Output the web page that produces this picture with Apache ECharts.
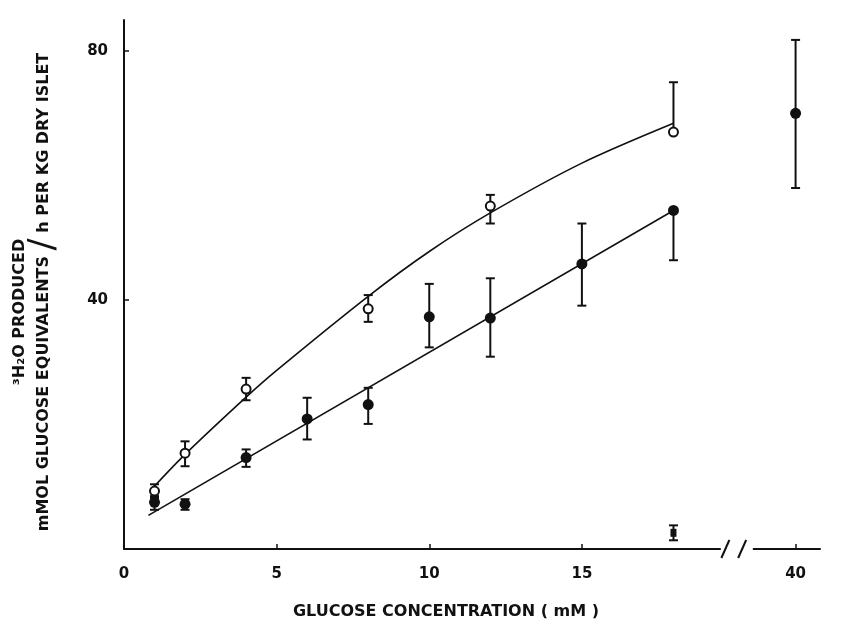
<!DOCTYPE html>
<html>
<head>
<meta charset="utf-8">
<script src="https://cdn.jsdelivr.net/npm/echarts@6/dist/echarts.min.js"></script>
<style>
  html, body { margin: 0; padding: 0; background: #fff; }
  #chart { width: 846px; height: 625px; }
</style>
</head>
<body>
<div id="chart"></div>
<script>
// glucose concentration (mM) and 3H2O produced
const openX = [1, 2, 4, 8, 12, 18];
const openY = [9.3, 15.4, 25.7, 38.6, 55.1, 67.0];
const openErrUp = [1.1, 1.9, 1.8, 2.2, 1.8, 8.0];
const openErrDown = [1.1, 2.1, 1.8, 2.1, 2.8, 0];

const filledX = [1, 2, 4, 6, 8, 10, 12, 15, 18, 40];
const filledY = [7.5, 7.2, 14.7, 20.9, 23.2, 37.3, 37.1, 45.8, 54.4, 70.0];
const filledErrUp = [1.0, 0.8, 1.3, 3.4, 2.7, 5.3, 6.4, 6.5, 0, 11.8];
const filledErrDown = [1.2, 0.9, 1.5, 3.3, 3.1, 4.9, 6.2, 6.7, 8.0, 12.0];

const lowX = [18];
const lowY = [2.6];
const lowErr = [1.2];

// fitted curves
const openCurveX = [1, 2, 4, 5, 8, 10, 12, 15, 18];
const openCurveY = [10.1, 15.2, 24.4, 28.7, 40.6, 47.8, 54.0, 62.0, 68.4];
const filledLineX = [0.8, 18];
const filledLineY = [5.4, 54.4];

const xTickLabels = [0, 5, 10, 15, 40];
const yTickLabels = [40, 80];

// axis is broken after 20 mM, 40 mM sits 2 units past the break
const BREAK_AT = 20;
const BREAK_TO = 38;
function xPos(x) {
  return x > BREAK_AT ? x - (BREAK_TO - BREAK_AT) : x;
}
function xLabel(p) {
  return p > BREAK_AT ? p + (BREAK_TO - BREAK_AT) : p;
}

const FONT = 'DejaVu Sans';
const INK = '#111';

function pts(xs, ys) {
  return xs.map((x, i) => [xPos(x), ys[i]]);
}
function bars(xs, ys, up, down) {
  return xs.map((x, i) => [xPos(x), ys[i], ys[i] - down[i], ys[i] + up[i]]);
}

function renderErr(params, api) {
  const x = api.value(0), y = api.value(1), lo = api.value(2), hi = api.value(3);
  const top = api.coord([x, hi]);
  const bot = api.coord([x, lo]);
  const cap = 4.5;
  const style = { stroke: INK, lineWidth: 2 };
  const children = [{
    type: 'line',
    shape: { x1: top[0], y1: top[1], x2: bot[0], y2: bot[1] },
    style: style
  }];
  if (hi > y) {
    children.push({ type: 'line', shape: { x1: top[0] - cap, y1: top[1], x2: top[0] + cap, y2: top[1] }, style: style });
  }
  if (lo < y) {
    children.push({ type: 'line', shape: { x1: bot[0] - cap, y1: bot[1], x2: bot[0] + cap, y2: bot[1] }, style: style });
  }
  return { type: 'group', children: children };
}

const chart = echarts.init(document.getElementById('chart'));

const labelFont = { fontSize: 15, fontWeight: 'bold', fontFamily: FONT, color: INK };

const option = {
  backgroundColor: '#fff',
  animation: false,
  textStyle: { fontFamily: FONT, color: INK },
  grid: { left: 124, right: 26, top: 20, bottom: 76 },
  xAxis: {
    type: 'value',
    min: 0,
    max: 22.8,
    splitLine: { show: false },
    axisLine: { lineStyle: { color: INK, width: 2 } },
    axisTick: {
      inside: true,
      length: 5,
      lineStyle: { color: INK, width: 1.5 },
      customValues: xTickLabels.slice(1).map(xPos)
    },
    axisLabel: Object.assign({
      customValues: xTickLabels.map(xPos),
      formatter: v => String(Math.round(xLabel(v))),
      margin: 18
    }, labelFont)
  },
  yAxis: {
    type: 'value',
    min: 0,
    max: 85,
    splitLine: { show: false },
    axisLine: { show: true, lineStyle: { color: INK, width: 2 } },
    axisTick: {
      show: true,
      inside: true,
      length: 5,
      lineStyle: { color: INK, width: 1.5 },
      customValues: yTickLabels
    },
    axisLabel: Object.assign({
      customValues: yTickLabels,
      margin: 16
    }, labelFont)
  },
  series: [
    {
      type: 'line',
      data: pts(openCurveX, openCurveY),
      smooth: 0.3,
      symbol: 'none',
      lineStyle: { color: INK, width: 1.6 },
      z: 2
    },
    {
      type: 'line',
      data: pts(filledLineX, filledLineY),
      symbol: 'none',
      lineStyle: { color: INK, width: 1.6 },
      z: 2
    },
    {
      type: 'custom',
      renderItem: renderErr,
      data: bars(openX, openY, openErrUp, openErrDown),
      z: 3
    },
    {
      type: 'custom',
      renderItem: renderErr,
      data: bars(filledX, filledY, filledErrUp, filledErrDown),
      z: 3
    },
    {
      type: 'custom',
      renderItem: renderErr,
      data: bars(lowX, lowY, lowErr, lowErr),
      z: 3
    },
    {
      type: 'scatter',
      data: pts(filledX, filledY),
      symbol: 'circle',
      symbolSize: 11,
      itemStyle: { color: INK, opacity: 1 },
      z: 4
    },
    {
      type: 'scatter',
      data: pts(openX, openY),
      symbol: 'circle',
      symbolSize: 9,
      itemStyle: { color: '#fff', borderColor: INK, borderWidth: 2, opacity: 1 },
      z: 5
    },
    {
      type: 'scatter',
      data: pts(lowX, lowY),
      symbol: 'rect',
      symbolSize: [6, 8],
      itemStyle: { color: INK, opacity: 1 },
      z: 4
    }
  ]
};

chart.setOption(option);

// axis titles and the break marks on the x axis
const b0 = chart.convertToPixel({ gridIndex: 0 }, [BREAK_AT - 0.45, 0]);
const b1 = chart.convertToPixel({ gridIndex: 0 }, [BREAK_AT + 0.6, 0]);
const s0 = chart.convertToPixel({ gridIndex: 0 }, [BREAK_AT - 0.3, 0]);
const s1 = chart.convertToPixel({ gridIndex: 0 }, [BREAK_AT + 0.25, 0]);

chart.setOption({
  graphic: [
    {
      type: 'rect',
      shape: { x: b0[0], y: b0[1] - 4, width: b1[0] - b0[0], height: 8 },
      style: { fill: '#fff' },
      z: 10
    },
    {
      type: 'line',
      shape: { x1: s0[0] - 4, y1: s0[1] + 9, x2: s0[0] + 4, y2: s0[1] - 9 },
      style: { stroke: INK, lineWidth: 2 },
      z: 11
    },
    {
      type: 'line',
      shape: { x1: s1[0] - 4, y1: s1[1] + 9, x2: s1[0] + 4, y2: s1[1] - 9 },
      style: { stroke: INK, lineWidth: 2 },
      z: 11
    },
    {
      type: 'text',
      x: 446,
      y: 612,
      style: {
        text: 'GLUCOSE CONCENTRATION ( mM )',
        font: 'bold 16px "DejaVu Sans"',
        fill: INK,
        align: 'center',
        verticalAlign: 'middle'
      }
    },
    {
      type: 'text',
      x: 20,
      y: 312,
      rotation: Math.PI / 2,
      style: {
        text: '³H₂O PRODUCED',
        font: 'bold 16px "DejaVu Sans"',
        fill: INK,
        align: 'center',
        verticalAlign: 'middle'
      }
    },
    {
      type: 'text',
      x: 44,
      y: 292,
      rotation: Math.PI / 2,
      style: {
        text: '{a|mMOL GLUCOSE EQUIVALENTS }{s|/}{a| h PER KG DRY ISLET}',
        fill: INK,
        align: 'center',
        verticalAlign: 'middle',
        rich: {
          a: { fontSize: 16, fontWeight: 'bold', fontFamily: FONT, color: INK },
          s: { fontSize: 36, fontFamily: FONT, color: INK }
        }
      }
    }
  ]
});
</script>
</body>
</html>
